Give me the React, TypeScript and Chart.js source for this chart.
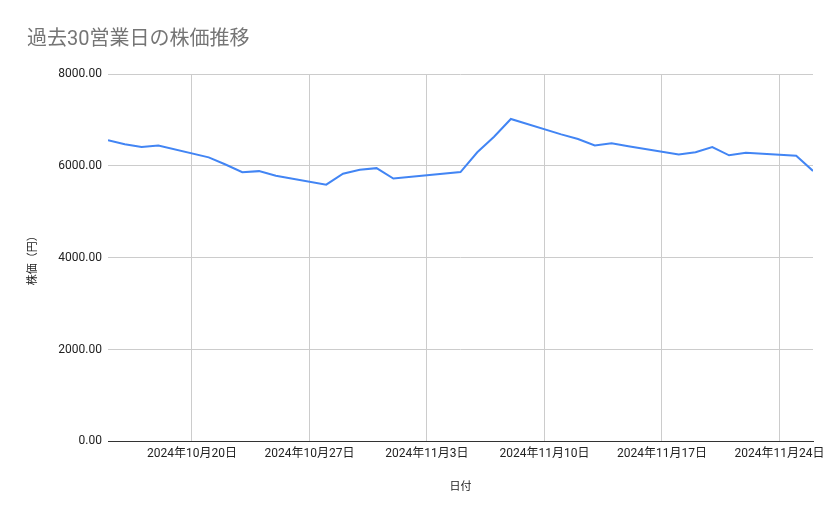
import React, { useEffect, useRef } from "react";
import { Chart, registerables } from "chart.js";

Chart.register(...registerables);

const chartTitle = "過去30営業日の株価推移";
const xAxisTitle = "日付";
const yAxisTitle = "株価（円）";

const dates = [
  "2024-10-15", "2024-10-16", "2024-10-17", "2024-10-18",
  "2024-10-21", "2024-10-22", "2024-10-23", "2024-10-24", "2024-10-25",
  "2024-10-28", "2024-10-29", "2024-10-30", "2024-10-31", "2024-11-01",
  "2024-11-05", "2024-11-06", "2024-11-07", "2024-11-08",
  "2024-11-11", "2024-11-12", "2024-11-13", "2024-11-14", "2024-11-15",
  "2024-11-18", "2024-11-19", "2024-11-20", "2024-11-21", "2024-11-22",
  "2024-11-25", "2024-11-26",
];

const prices = [
  6560, 6470, 6410, 6445,
  6185, 6030, 5860, 5885, 5785,
  5590, 5830, 5915, 5950, 5725,
  5865, 6295, 6635, 7020,
  6685, 6585, 6445, 6490, 6425,
  6245, 6295, 6410, 6230, 6285,
  6220, 5890,
];

const xRangeStart = "2024-10-15";
const xRangeEnd = "2024-11-26";
const xTickDates = ["2024-10-20", "2024-10-27", "2024-11-03", "2024-11-10", "2024-11-17", "2024-11-24"];

const yMin = 0;
const yMax = 8000;
const yStep = 2000;

const DAY = 86400000;
const toUTC = (s: string) => {
  const [y, m, d] = s.split("-").map(Number);
  return Date.UTC(y, m - 1, d);
};
const base = toUTC(xRangeStart);
const dayIndex = (s: string) => Math.round((toUTC(s) - base) / DAY);
const fmtDate = (idx: number) => {
  const d = new Date(base + idx * DAY);
  return `${d.getUTCFullYear()}年${d.getUTCMonth() + 1}月${d.getUTCDate()}日`;
};

const FONT = "Roboto, 'Noto Sans CJK JP', sans-serif";

export default function App() {
  const ref = useRef<HTMLCanvasElement | null>(null);

  useEffect(() => {
    if (!ref.current) return;
    const points = dates.map((d, i) => ({ x: dayIndex(d), y: prices[i] }));
    const tickVals = xTickDates.map(dayIndex);
    const chart = new Chart(ref.current, {
      type: "line",
      data: {
        datasets: [
          {
            label: yAxisTitle,
            data: points,
            borderColor: "#4285F4",
            backgroundColor: "#4285F4",
            borderWidth: 2,
            pointRadius: 0,
            tension: 0,
          },
        ],
      },
      options: {
        animation: false,
        responsive: false,
        devicePixelRatio: 1,
        layout: { padding: { left: 27, right: 26, top: 0, bottom: 25 } },
        plugins: {
          legend: { display: false },
          tooltip: { enabled: false },
          title: {
            display: true,
            text: chartTitle,
            align: "start",
            color: "#757575",
            font: { family: FONT, size: 20, weight: "normal" },
            padding: { top: 28, bottom: 22 },
          },
        },
        scales: {
          x: {
            type: "linear",
            min: dayIndex(xRangeStart),
            max: dayIndex(xRangeEnd),
            afterBuildTicks: (scale: any) => {
              scale.ticks = tickVals.map((v) => ({ value: v }));
            },
            ticks: {
              autoSkip: false,
              maxRotation: 0,
              padding: 5,
              color: "#222222",
              font: { family: FONT, size: 12 },
              callback: (v: any) => fmtDate(Number(v)),
            },
            grid: { color: "#cccccc", drawTicks: false, lineWidth: 1 },
            border: { display: true, color: "#333333", width: 1 },
            title: {
              display: true,
              text: xAxisTitle,
              color: "#222222",
              font: { family: FONT, size: 11 },
              padding: { top: 15, bottom: 0 },
            },
          },
          y: {
            type: "linear",
            min: yMin,
            max: yMax,
            afterFit: (scale: any) => {
              scale.width = 81;
            },
            ticks: {
              stepSize: yStep,
              padding: 6,
              color: "#222222",
              font: { family: FONT, size: 12 },
              callback: (v: any) => Number(v).toFixed(2),
            },
            grid: { color: "#cccccc", drawTicks: false, lineWidth: 1 },
            border: { display: false },
            title: {
              display: true,
              text: yAxisTitle,
              color: "#222222",
              font: { family: FONT, size: 11 },
              padding: { top: 0, bottom: 0 },
            },
          },
        },
      },
    } as any);
    return () => chart.destroy();
  }, []);

  return (
    <div style={{ position: "absolute", left: 0, top: 0, width: 839, height: 519, background: "#fff" }}>
      <canvas ref={ref} width={839} height={519} style={{ width: 839, height: 519, display: "block" }} />
    </div>
  );
}
